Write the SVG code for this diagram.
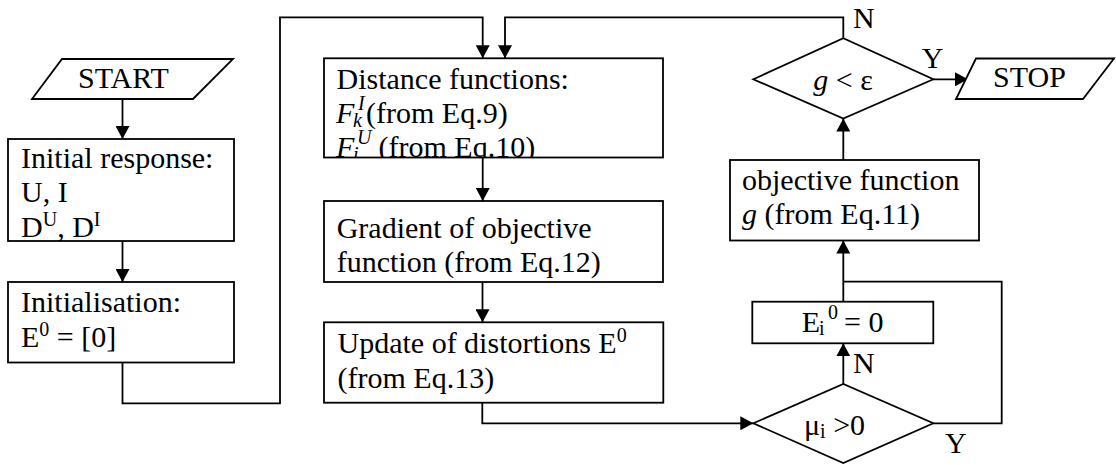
<svg xmlns="http://www.w3.org/2000/svg" width="1116" height="465" viewBox="0 0 1116 465">
<style>
.shape{fill:#fff;stroke:#000;stroke-width:1.8}
.conn{fill:none;stroke:#000;stroke-width:1.8}
text{font-family:"Liberation Serif","Times New Roman",serif;font-size:30px;fill:#000}
.it{font-style:italic}
.sm{font-size:20px}
</style>
<defs>
<marker id="arr" markerUnits="userSpaceOnUse" markerWidth="14" markerHeight="14" refX="13" refY="7" orient="auto">
<path d="M0,0 L13,7 L0,14 z" fill="#000"/>
</marker>
<clipPath id="clip3"><rect x="324" y="58" width="340" height="99.5"/></clipPath>
</defs>
<rect width="1116" height="465" fill="#fff"/>
<g id="connectors">
<path class="conn" d="M122.5,99 V139" marker-end="url(#arr)"/>
<path class="conn" d="M122.5,241 V282" marker-end="url(#arr)"/>
<path class="conn" d="M122.5,362.5 V403.3 H280 V17.3 H482.7 V58.3" marker-end="url(#arr)"/>
<path class="conn" d="M843.3,38.3 V17.3 H505 V58.3" marker-end="url(#arr)"/>
<path class="conn" d="M482.7,157.5 V201" marker-end="url(#arr)"/>
<path class="conn" d="M482.5,282 V322.3" marker-end="url(#arr)"/>
<path class="conn" d="M482.3,402.7 V423.3 H753.3" marker-end="url(#arr)"/>
<path class="conn" d="M843.3,384 V343.3" marker-end="url(#arr)"/>
<path class="conn" d="M843.3,301.7 V240.5" marker-end="url(#arr)"/>
<path class="conn" d="M933.3,423.3 H1001.7 V281.7 H843.3"/>
<path class="conn" d="M843.3,160 V118.5" marker-end="url(#arr)"/>
<path class="conn" d="M933.3,79.3 H968" marker-end="url(#arr)"/>
<text x="853" y="28">N</text>
<text x="921.7" y="68.3">Y</text>
<text x="853" y="373.3">N</text>
<text x="945" y="453.3">Y</text>
</g>
<g id="start">
<polygon class="shape" points="62,59 233,59 193,99 32,99"/>
<text x="78" y="88">START</text>
</g>
<g id="initial-response">
<rect class="shape" x="8" y="139" width="226" height="102"/>
<text x="21" y="167.5">Initial response:</text>
<text x="21" y="202">U, I</text>
<text x="21" y="236.5">D<tspan class="sm" dy="-11">U</tspan><tspan dy="11">, D</tspan><tspan class="sm" dy="-11">I</tspan></text>
</g>
<g id="initialisation">
<rect class="shape" x="8" y="282" width="226" height="80.5"/>
<text x="21" y="311.5">Initialisation:</text>
<text x="21" y="346.5">E<tspan class="sm" dy="-11">0</tspan><tspan dy="11"> = [0]</tspan></text>
</g>
<g id="distance-functions">
<rect class="shape" x="324" y="58.3" width="339" height="99.2"/>
<g clip-path="url(#clip3)">
<text x="336.5" y="89">Distance functions:</text>
<text><tspan class="it" x="336" y="123">F</tspan><tspan class="it sm" x="353" y="127">k</tspan><tspan class="it sm" x="358" y="109.5">I</tspan><tspan x="366" y="123">(from Eq.9)</tspan></text>
<text><tspan class="it" x="336" y="157">F</tspan><tspan class="it sm" x="353" y="161">i</tspan><tspan class="it sm" x="357" y="143.5">U</tspan><tspan x="371" y="157"> (from Eq.10)</tspan></text>
</g>
</g>
<g id="gradient">
<rect class="shape" x="324" y="201" width="339" height="81"/>
<text x="336.7" y="237.5">Gradient of objective</text>
<text x="336.7" y="272">function (from Eq.12)</text>
</g>
<g id="update">
<rect class="shape" x="324" y="322.3" width="339.3" height="80.4"/>
<text x="337.5" y="353.3">Update of distortions E<tspan class="sm" dy="-11">0</tspan></text>
<text x="337.5" y="387.8">(from Eq.13)</text>
</g>
<g id="mu-decision">
<polygon class="shape" points="753.3,423.3 843.3,384 933.3,423.3 843.3,463"/>
<text x="804" y="435">μ<tspan class="sm" dy="3">i</tspan><tspan dy="-3"> &gt;0</tspan></text>
</g>
<g id="e-zero">
<rect class="shape" x="752.3" y="301.7" width="181" height="41.6"/>
<text><tspan x="801.7" y="331.7">E</tspan><tspan class="sm" x="819" y="335">i</tspan><tspan class="sm" x="828" y="318.5">0</tspan><tspan x="836.5" y="331.7"> = 0</tspan></text>
</g>
<g id="objective">
<rect class="shape" x="730" y="160" width="249" height="80.5"/>
<text x="742" y="190">objective function</text>
<text x="742" y="223.5"><tspan class="it">g</tspan> (from Eq.11)</text>
</g>
<g id="g-decision">
<polygon class="shape" points="753.3,79.3 843.3,38.3 933.3,79.3 843.3,118.5"/>
<text x="843" y="90" text-anchor="middle"><tspan class="it">g</tspan> &lt; ε</text>
</g>
<g id="stop">
<polygon class="shape" points="976,58.5 1114,58.5 1083,99 956,99"/>
<text x="993" y="87.3">STOP</text>
</g>
</svg>
